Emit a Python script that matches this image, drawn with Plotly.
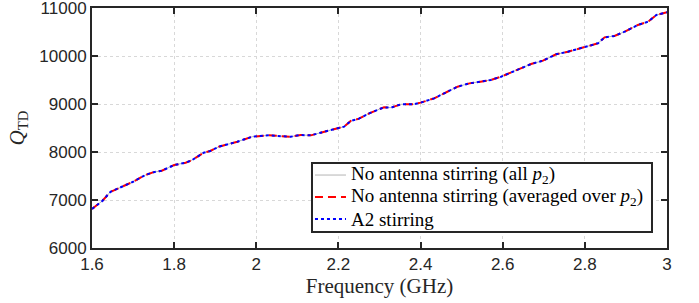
import plotly.graph_objects as go

freq_ghz = [1.6, 1.625, 1.645, 1.67, 1.70, 1.73, 1.75, 1.77, 1.8, 1.828, 1.844, 1.872, 1.888,
            1.909, 1.954, 1.99, 2.031, 2.06, 2.084, 2.108, 2.133, 2.157, 2.2, 2.214, 2.23,
            2.25, 2.275, 2.311, 2.328, 2.352, 2.384, 2.4, 2.433, 2.457, 2.49, 2.519, 2.545,
            2.571, 2.596, 2.637, 2.669, 2.698, 2.73, 2.759, 2.799, 2.832, 2.848, 2.872,
            2.897, 2.929, 2.954, 2.974, 3.0]
q_avg = [6813, 6980, 7170, 7260, 7380, 7521, 7580, 7610, 7729, 7777, 7833, 7986, 8021,
         8111, 8215, 8319, 8347, 8330, 8319, 8354, 8347, 8403, 8493, 8528, 8646,
         8694, 8806, 8931, 8924, 8994, 8994, 9028, 9118, 9222, 9361, 9430, 9470,
         9500, 9569, 9708, 9833, 9903, 10035, 10090, 10194, 10264, 10389, 10417,
         10507, 10646, 10715, 10854, 10910]
q_all = list(q_avg)
q_a2 = list(q_avg)

x_ticks = [1.6, 1.8, 2, 2.2, 2.4, 2.6, 2.8, 3]
x_tick_labels = ["1.6", "1.8", "2", "2.2", "2.4", "2.6", "2.8", "3"]
y_ticks = [6000, 7000, 8000, 9000, 10000, 11000]
y_tick_labels = ["6000", "7000", "8000", "9000", "10000", "11000"]

series_names = ["No antenna stirring (all <i>p</i><sub>2</sub>)",
                "No antenna stirring (averaged over <i>p</i><sub>2</sub>)",
                "A2 stirring"]
series_colors = ["#b4b4b4", "#ff0000", "#0000ff"]
series_widths = [1, 2, 2]
series_dashes = ["solid", "8px,5px", "dot"]

fig = go.Figure()
for yv, nm, c, w, d in zip([q_all, q_avg, q_a2], series_names, series_colors,
                           series_widths, series_dashes):
    fig.add_trace(go.Scatter(x=freq_ghz, y=yv, mode="lines",
                             line=dict(color=c, width=w, dash=d), name=nm,
                             showlegend=False))

axis_common = dict(
    showline=True, linewidth=2, linecolor="#262626", mirror="ticks",
    ticks="inside", ticklen=6, tickwidth=2, tickcolor="#262626",
    showgrid=True, gridcolor="#d8d8d8", griddash="dot", gridwidth=1,
    zeroline=False, automargin=False, ticklabeloverflow="allow",
    tickfont=dict(family="Liberation Sans", size=17, color="#262626"),
)

fig.update_xaxes(range=[1.6, 3], tickvals=x_ticks, ticktext=x_tick_labels,
                 title=dict(text="Frequency (GHz)", standoff=0,
                            font=dict(family="Liberation Serif", size=21, color="#262626")),
                 **axis_common)
fig.update_yaxes(range=[6000, 11000], tickvals=y_ticks, ticktext=y_tick_labels,
                 title=dict(text="<i>Q</i><sub>TD</sub>", standoff=9,
                            font=dict(family="Liberation Serif", size=21, color="#262626")),
                 **axis_common)

# legend box (drawn as shapes + text annotations to match the reference's compact rows)
leg_x0, leg_x1, leg_y0, leg_y1 = 0.3826, 0.9739, 0.0667, 0.354
row_y = [0.304, 0.2125, 0.1208]
samp_x0, samp_x1, text_x = 0.3878, 0.4417, 0.447

shapes = [dict(type="rect", xref="paper", yref="paper", x0=leg_x0, x1=leg_x1,
               y0=leg_y0, y1=leg_y1, fillcolor="white",
               line=dict(color="#262626", width=2), layer="above")]
annotations = []
for ry, nm, c, w, d in zip(row_y, series_names, series_colors, series_widths, series_dashes):
    shapes.append(dict(type="line", xref="paper", yref="paper", x0=samp_x0, x1=samp_x1,
                       y0=ry, y1=ry, line=dict(color=c, width=w, dash=d), layer="above"))
    annotations.append(dict(xref="paper", yref="paper", x=text_x, y=ry, text=nm,
                            showarrow=False, xanchor="left", yanchor="middle",
                            font=dict(family="Liberation Serif", size=19, color="#000000")))

fig.update_layout(
    width=699, height=303,
    margin=dict(l=92, r=32, t=8, b=55, autoexpand=False),
    paper_bgcolor="white", plot_bgcolor="white",
    showlegend=False,
    shapes=shapes, annotations=annotations,
)

fig.write_html("out.html", config={"displayModeBar": False},
               post_script="document.body.style.margin='0';")
